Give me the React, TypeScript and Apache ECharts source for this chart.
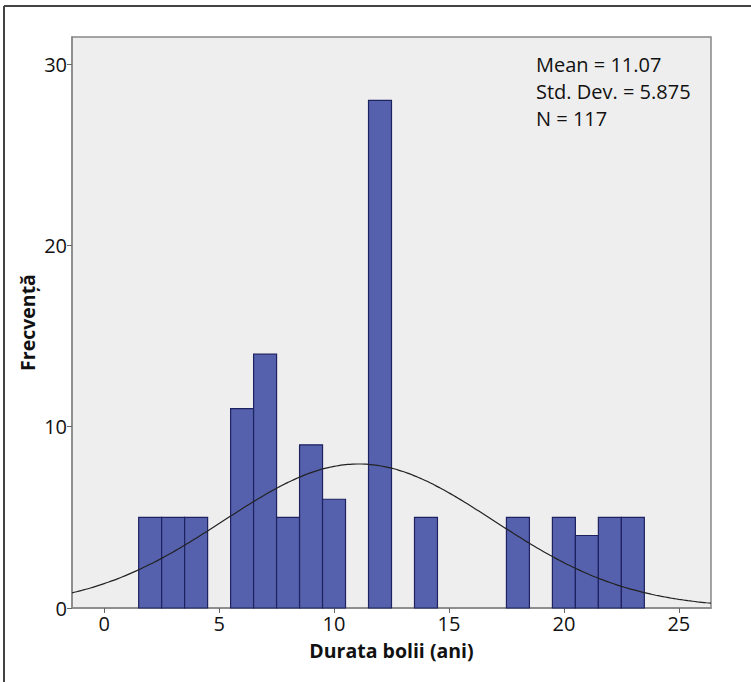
import React, { useEffect, useRef } from "react";
import * as echarts from "echarts";

// Histogram bins (bin centre, years) and frequencies
const binCenters = [2, 3, 4, 6, 7, 8, 9, 10, 12, 14, 18, 20, 21, 22, 23];
const frequencies = [5, 5, 5, 11, 14, 5, 9, 6, 28, 5, 5, 5, 4, 5, 5];
const xTicks = [0, 5, 10, 15, 20, 25];
const yTicks = [0, 10, 20, 30];
// Statistics printed on the chart (define the fitted normal curve)
const MEAN = 11.07;
const STD_DEV = 5.875;
const N = 117;
const BIN_WIDTH = 1;
const statsLines = ["Mean = 11.07", "Std. Dev. = 5.875", "N = 117"];

const X_MIN = -1.4;
const X_MAX = 26.4;
const Y_MAX = 31.5;

export default function App() {
  const ref = useRef<HTMLDivElement>(null);
  useEffect(() => {
    if (!ref.current) return;
    const chart = echarts.init(ref.current, undefined, { renderer: "svg" });
    const barData = binCenters.map((c, i) => [c, frequencies[i]]);
    const curve: number[][] = [];
    for (let x = X_MIN; x <= X_MAX + 1e-9; x += 0.2) {
      const z = (x - MEAN) / STD_DEV;
      const y = (N * BIN_WIDTH) / (STD_DEV * Math.sqrt(2 * Math.PI)) * Math.exp(-0.5 * z * z);
      curve.push([x, y]);
    }
    const font = "'Open Sans', 'Noto Sans', sans-serif";
    chart.setOption({
      animation: false,
      backgroundColor: "#ffffff",
      grid: { left: 72, top: 37, right: 40, bottom: 74, show: true, backgroundColor: "#eeeeee", borderColor: "#888888", borderWidth: 1.5 },
      xAxis: {
        type: "value",
        min: X_MIN,
        max: X_MAX,
        name: "Durata bolii (ani)",
        nameLocation: "middle",
        nameGap: 32,
        nameMoveOverlap: false,
        nameTextStyle: { fontFamily: font, fontWeight: "bold", fontSize: 19.5, color: "#111" },
        axisLine: { show: true, onZero: false, lineStyle: { color: "#888", width: 1.5 } },
        axisTick: { show: true, customValues: xTicks, length: 5, inside: false, lineStyle: { color: "#666" } },
        axisLabel: { customValues: xTicks, fontFamily: font, fontSize: 20, color: "#111", margin: 5 },
        splitLine: { show: false },
      },
      yAxis: {
        type: "value",
        min: 0,
        max: Y_MAX,
        name: "Frecvență",
        nameLocation: "middle",
        nameGap: 35,
        nameMoveOverlap: false,
        nameTextStyle: { fontFamily: font, fontWeight: "bold", fontSize: 19.5, color: "#111" },
        axisLine: { show: true, onZero: false, lineStyle: { color: "#888", width: 1.5 } },
        axisTick: { show: true, customValues: yTicks, length: 5, lineStyle: { color: "#666" } },
        axisLabel: { customValues: yTicks, fontFamily: font, fontSize: 20, color: "#111", margin: 5 },
        splitLine: { show: false },
      },
      series: [
        {
          type: "custom",
          data: barData,
          renderItem: (params: any, api: any) => {
            const c = api.value(0);
            const v = api.value(1);
            const p0 = api.coord([c - BIN_WIDTH / 2, v]);
            const p1 = api.coord([c + BIN_WIDTH / 2, 0]);
            return {
              type: "rect",
              shape: { x: p0[0], y: p0[1], width: p1[0] - p0[0], height: p1[1] - p0[1] },
              style: { fill: "#5561ad", stroke: "#1e2260", lineWidth: 1.2 },
            };
          },
          z: 2,
        },
        {
          type: "line",
          data: curve,
          showSymbol: false,
          smooth: true,
          lineStyle: { color: "#222", width: 1.2 },
          z: 3,
        },
      ],
      graphic: [
        { type: "line", shape: { x1: 4, y1: 6, x2: 751, y2: 6 }, style: { stroke: "#444", lineWidth: 2 } },
        { type: "line", shape: { x1: 4, y1: 6, x2: 4, y2: 682 }, style: { stroke: "#444", lineWidth: 2 } },
        {
          type: "text",
          left: 536,
          top: 51,
          z: 10,
          style: { text: statsLines.join("\n"), fontFamily: font, fontSize: 20, lineHeight: 27, fill: "#111" },
        },
      ],
    });
    return () => chart.dispose();
  }, []);
  return <div ref={ref} style={{ position: "fixed", left: 0, top: 0, width: 751, height: 682 }} />;
}
